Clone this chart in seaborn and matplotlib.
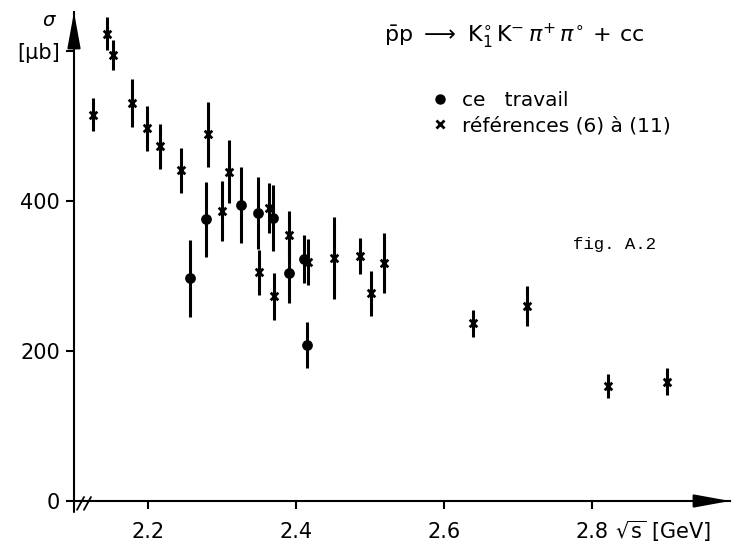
import matplotlib
matplotlib.use("Agg")
import matplotlib.pyplot as plt
from matplotlib.lines import Line2D
import numpy as np
import pandas as pd
import seaborn as sns

# Cross section of  p̄p -> K1° K- π+ π° + cc  versus √s
# this work (filled circles)
own_sqrt_s = [2.257, 2.278, 2.326, 2.349, 2.369, 2.391, 2.411, 2.415]
own_sigma = [297, 376, 395, 384, 377, 304, 323, 208]
own_err = [51, 50, 51, 48, 44, 40, 32, 31]

# references (6) to (11) (crosses)
ref_sqrt_s = [2.126, 2.145, 2.153, 2.178, 2.199, 2.216, 2.245, 2.281, 2.300,
              2.309, 2.350, 2.363, 2.370, 2.391, 2.416, 2.451, 2.486, 2.501,
              2.519, 2.639, 2.712, 2.822, 2.901]
ref_sigma = [515, 623, 595, 531, 497, 473, 441, 489, 387,
             439, 305, 391, 273, 355, 319, 324, 327, 277,
             317, 237, 260, 153, 159]
ref_err = [22, 22, 20, 32, 30, 30, 30, 43, 40,
           42, 30, 33, 31, 32, 31, 55, 24, 30,
           40, 18, 27, 16, 18]

x_ticks = [2.2, 2.4, 2.6, 2.8]
x_tick_labels = ["2.2", "2.4", "2.6", "2.8"]
y_ticks = [0, 200, 400, 600]
y_tick_labels = ["0", "200", "400", "[μb]"]

label_own = "ce   travail"
label_ref = "références (6) à (11)"

df = pd.concat([
    pd.DataFrame({"sqrt_s": own_sqrt_s, "sigma": own_sigma, "err": own_err,
                  "source": label_own}),
    pd.DataFrame({"sqrt_s": ref_sqrt_s, "sigma": ref_sigma, "err": ref_err,
                  "source": label_ref}),
], ignore_index=True)

sns.set_theme(style="ticks")
plt.rcParams["font.family"] = ["DejaVu Sans"]
plt.rcParams["mathtext.fontset"] = "dejavusans"
plt.rcParams["text.color"] = "black"
plt.rcParams["axes.labelcolor"] = "black"

W, H = 735, 546
fig = plt.figure(figsize=(W / 100, H / 100), dpi=100)
# axes frame in pixels: left spine at x=74, x-axis at y=501, top at y=12, right end at x=730
ax = fig.add_axes([74 / W, (H - 501) / H, (730 - 74) / W, (501 - 12) / H])
ax.set_xlim(2.1, 2.1 + (730 - 74) / 740)
ax.set_ylim(0, (501 - 12) / 0.75)

# error bars first, markers on top
ax.errorbar(df["sqrt_s"], df["sigma"], yerr=df["err"], fmt="none",
            ecolor="black", elinewidth=2.2, capsize=0, zorder=2)
sns.scatterplot(data=df[df["source"] == label_own], x="sqrt_s", y="sigma",
                marker="o", color="black", s=60, edgecolor="black",
                linewidth=0, legend=False, ax=ax, zorder=3)
sns.scatterplot(data=df[df["source"] == label_ref], x="sqrt_s", y="sigma",
                marker="x", color="black", s=30, linewidth=2.0,
                legend=False, ax=ax, zorder=3)

# axes styling
for side in ("top", "right"):
    ax.spines[side].set_visible(False)
for side in ("left", "bottom"):
    ax.spines[side].set_linewidth(1.5)
    ax.spines[side].set_color("black")

ax.set_xticks(x_ticks)
ax.set_xticklabels(x_tick_labels)
ax.set_yticks(y_ticks)
ax.set_yticklabels(y_tick_labels)
ax.tick_params(axis="both", direction="out", length=6, width=1.5,
               colors="black", labelsize=15)
ax.tick_params(axis="x", pad=9)
ax.tick_params(axis="y", pad=4)
ax.set_xlabel("")
ax.set_ylabel("")

# arrow heads at the end of the axes
arrow = dict(arrowstyle="-|>,head_length=1.1,head_width=0.2", color="black",
             lw=1.5, mutation_scale=20, shrinkA=0, shrinkB=0)
ax.annotate("", xy=(0, 1.0), xytext=(0, 0.94), xycoords="axes fraction",
            arrowprops=arrow, annotation_clip=False)
ax.annotate("", xy=(1.0, 0), xytext=(0.95, 0), xycoords="axes fraction",
            arrowprops=arrow, annotation_clip=False)

# small extension of the y axis below zero and the axis break marks
ax.plot([0, 0], [-0.022, 0], transform=ax.transAxes, color="black",
        lw=1.5, clip_on=False)
for x0 in (0.0046, 0.0152):
    ax.plot([x0, x0 + 0.0107], [-0.018, 0.0082], transform=ax.transAxes,
            color="black", lw=1.3, clip_on=False)

# axis titles
fig.text(49 / W, 1 - 20 / H, r"$\sigma$", fontsize=14, ha="center",
         va="center")
fig.text(615 / W, 1 - 531 / H, r"$\sqrt{\mathrm{s}}$ [GeV]", fontsize=15,
         ha="left", va="center")

# reaction
fig.text(384 / W, 1 - 36 / H,
         r"$\mathrm{\bar{p}p}\ \longrightarrow\ \mathrm{K_1^{\circ}\,K^{-}}"
         r"\,\pi^{+}\,\pi^{\circ}\mathrm{\,+\,cc}$",
         fontsize=16, ha="left", va="center")

# legend
handles = [
    Line2D([], [], marker="o", ls="", color="black", ms=6.5),
    Line2D([], [], marker="x", ls="", color="black", ms=6, mew=2),
]
ax.legend(handles, [label_own, label_ref], loc="upper left",
          bbox_to_anchor=(432 / W, 1 - 91 / H), bbox_transform=fig.transFigure,
          frameon=False, fontsize=14.5, handlelength=0.8, handletextpad=0.7,
          labelspacing=0.3, borderpad=0, borderaxespad=0)

fig.text(573 / W, 1 - 245 / H, "fig. A.2", family="Liberation Mono",
         fontsize=12.5, ha="left", va="center")

fig.savefig("out.png", dpi=100, facecolor="white")
